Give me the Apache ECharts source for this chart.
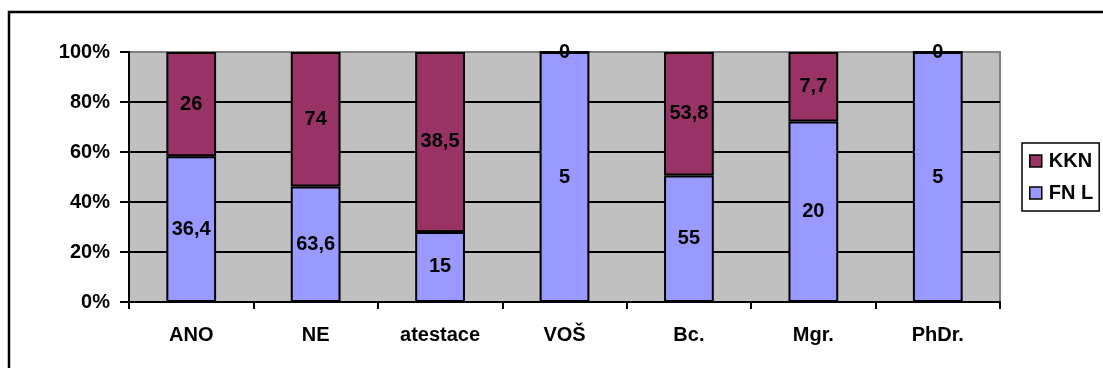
<!DOCTYPE html>
<html>
<head>
<meta charset="utf-8">
<script src="https://cdn.jsdelivr.net/npm/echarts@6/dist/echarts.min.js"></script>
<style>
  html, body { margin: 0; padding: 0; background: #fff; }
  #chart { width: 1103px; height: 368px; }
</style>
</head>
<body>
<div id="chart"></div>
<script>
// Categories and raw values for each group
const categories = ['ANO', 'NE', 'atestace', 'VOŠ', 'Bc.', 'Mgr.', 'PhDr.'];
const fnlValues = [36.4, 63.6, 15, 5, 55, 20, 5];
const kknValues = [26, 74, 38.5, 0, 53.8, 7.7, 0];
const yTicks = [0, 20, 40, 60, 80, 100];

// 100% stacking: each column is normalised to its own total
const totals = categories.map((_, i) => fnlValues[i] + kknValues[i]);
const share = (vals) => vals.map((v, i) => ({ value: v / totals[i] * 100, raw: v }));

const fmt = (v) => String(v).replace('.', ',');

const FONT = '"Liberation Sans", Arial, sans-serif';
const FS = 20;
const labelStyle = {
  show: true,
  position: 'inside',
  color: '#000',
  fontFamily: FONT,
  fontWeight: 'bold',
  fontSize: FS,
  formatter: (p) => fmt(p.data.raw)
};

const chart = echarts.init(document.getElementById('chart'), null, { renderer: 'canvas' });

chart.setOption({
  animation: false,
  backgroundColor: '#fff',
  textStyle: { fontFamily: FONT },
  grid: {
    left: 129, right: 103, top: 52, bottom: 66,
    show: true,
    backgroundColor: '#C0C0C0',
    borderColor: '#808080',
    borderWidth: 2
  },
  legend: {
    orient: 'vertical',
    left: 1022,
    top: 143,
    padding: [8, 6, 8, 7],
    itemGap: 12,
    itemWidth: 12,
    itemHeight: 12,
    icon: 'rect',
    borderColor: '#000',
    borderWidth: 1.5,
    backgroundColor: '#fff',
    data: ['KKN', 'FN L'],
    itemStyle: { borderColor: '#000', borderWidth: 1.5 },
    textStyle: { fontFamily: FONT, fontWeight: 'bold', fontSize: FS, color: '#000', padding: [0, 0, 0, 2] }
  },
  xAxis: {
    type: 'category',
    data: categories,
    axisLine: { lineStyle: { color: '#000', width: 2 } },
    axisTick: { show: true, length: 7, inside: false, alignWithLabel: false, lineStyle: { color: '#000', width: 2 } },
    axisLabel: { color: '#000', fontFamily: FONT, fontWeight: 'bold', fontSize: FS, margin: 23 },
    splitLine: { show: false }
  },
  yAxis: {
    type: 'value',
    min: yTicks[0],
    max: yTicks[yTicks.length - 1],
    interval: 20,
    axisLine: { show: true, lineStyle: { color: '#000', width: 2 } },
    axisTick: { show: true, length: 9, lineStyle: { color: '#000', width: 2 } },
    axisLabel: { color: '#000', fontFamily: FONT, fontWeight: 'bold', fontSize: FS, margin: 19, formatter: '{value}%' },
    splitLine: { show: true, lineStyle: { color: ['#000', '#000', '#000', '#000', '#000', '#808080'], width: 2 } }
  },
  series: [
    {
      name: 'FN L',
      type: 'bar',
      stack: 'total',
      barWidth: '40%',
      data: share(fnlValues),
      itemStyle: { color: '#9999FF', borderColor: '#000', borderWidth: 2 },
      label: labelStyle
    },
    {
      name: 'KKN',
      type: 'bar',
      stack: 'total',
      barWidth: '40%',
      data: share(kknValues),
      itemStyle: { color: '#993366', borderColor: '#000', borderWidth: 2 },
      label: labelStyle
    }
  ],
  graphic: [
    {
      type: 'rect',
      silent: true,
      z: 100,
      shape: { x: 9, y: 12, width: 1200, height: 400 },
      style: { fill: 'none', stroke: '#000', lineWidth: 2.5 }
    }
  ]
});
</script>
</body>
</html>
